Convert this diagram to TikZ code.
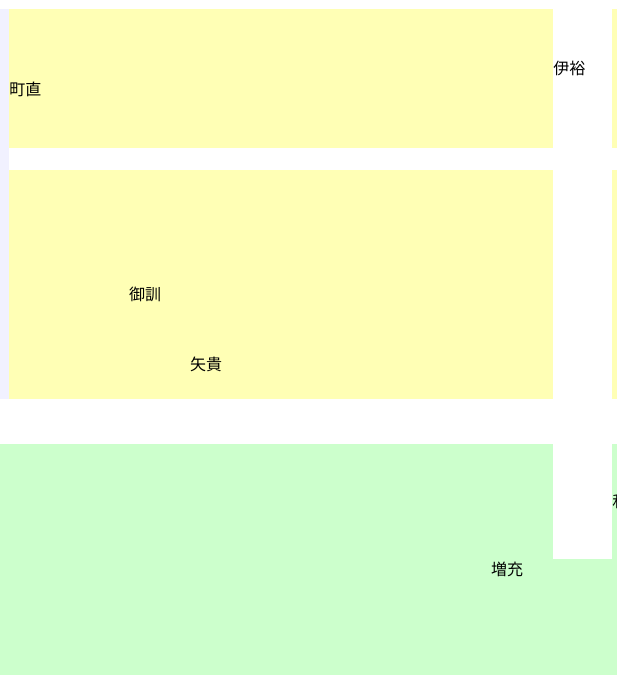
\documentclass[tikz,border=0pt]{standalone}
\usepackage{fontspec}
\newfontfamily\cjk{Noto Sans CJK JP}
\definecolor{lav}{HTML}{F1F1FF}
\definecolor{yel}{HTML}{FFFFB5}
\definecolor{grn}{HTML}{CCFFCC}
\tikzset{
  lbl/.style={font=\cjk\fontsize{12}{14}\selectfont, inner sep=0pt, text=black},
}
\begin{document}
\begin{tikzpicture}[x=0.75pt,y=-0.75pt]
\useasboundingbox (0,0) rectangle (617,675);
\clip (0,0) rectangle (617,675);
% lavender strip
\fill[lav] (0,9) rectangle (8.5,399);
% yellow boxes
\fill[yel] (9,9) rectangle (553,148);
\fill[yel] (9,170) rectangle (553,399);
\fill[yel] (612,9) rectangle (625,148);
\fill[yel] (612,170) rectangle (625,399);
% green area
\fill[grn] (0,444) rectangle (617,675);
\fill[white] (553,444) rectangle (612,558.5);
% labels
\node[lbl, anchor=west] (a) at (9,89) {町直};
\node[lbl, anchor=west] (b) at (553,68) {伊裕};
\node[lbl] (c) at (145,294) {御訓};
\node[lbl] (d) at (206,364) {矢貴};
\node[lbl] (e) at (507,569) {増充};
\node[lbl, anchor=west] (f) at (612,501) {和};
\end{tikzpicture}
\end{document}
